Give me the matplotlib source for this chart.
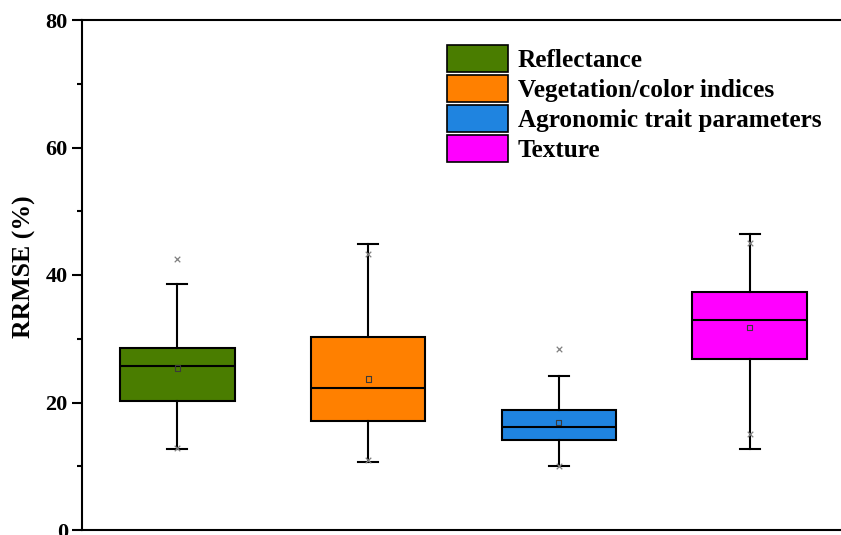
import matplotlib
matplotlib.use("Agg")
import matplotlib.pyplot as plt
from matplotlib.patches import Patch

# Feature groups and box statistics (RRMSE, %)
groups = ["Reflectance", "Vegetation/color indices", "Agronomic trait parameters", "Texture"]
colors = ["#4A7D00", "#FF8000", "#1F84E0", "#FF00FF"]
q1 = [20.3, 17.1, 14.1, 26.9]
median = [25.8, 22.3, 16.2, 33.0]
q3 = [28.6, 30.3, 18.8, 37.4]
whisker_low = [12.7, 10.6, 10.0, 12.7]
whisker_high = [38.6, 44.8, 24.2, 46.4]
mean = [25.4, 23.7, 16.9, 31.8]
extreme_low = [12.8, 11.0, 10.1, 15.0]
extreme_high = [42.5, 43.3, 28.4, 45.0]

plt.rcParams["font.family"] = ["Liberation Serif", "DejaVu Serif"]
plt.rcParams["font.weight"] = "bold"

fig = plt.figure(figsize=(8.41, 5.35), dpi=100)
ax = fig.add_axes([82 / 841, 5 / 535, 763 / 841, 510 / 535])

stats = []
for i, g in enumerate(groups):
    stats.append(dict(label=g, q1=q1[i], med=median[i], q3=q3[i],
                      whislo=whisker_low[i], whishi=whisker_high[i],
                      mean=mean[i], fliers=[]))

positions = list(range(1, len(groups) + 1))
bp = ax.bxp(stats, positions=positions, widths=0.6, patch_artist=True,
            showmeans=False, showfliers=False,
            boxprops=dict(linewidth=1.5, edgecolor="black"),
            medianprops=dict(color="black", linewidth=1.5),
            whiskerprops=dict(color="black", linewidth=1.5),
            capprops=dict(color="black", linewidth=1.5),
            capwidths=0.105)
for patch, c in zip(bp["boxes"], colors):
    patch.set_facecolor(c)

# mean markers and extreme values
ax.scatter(positions, mean, marker="s", s=14, facecolors="none",
           edgecolors="#3a3a3a", linewidths=0.8, zorder=5)
ax.scatter(positions, extreme_high, marker="x", s=16, color="#808080",
           linewidths=0.9, zorder=5)
ax.scatter(positions, extreme_low, marker="x", s=16, color="#808080",
           linewidths=0.9, zorder=5)

ax.set_xlim(0.5, 4.5)
ax.set_ylim(0, 80)
ax.set_yticks([0, 20, 40, 60, 80])
ax.set_yticks([10, 30, 50, 70], minor=True)
ax.set_xticks([])
ax.tick_params(axis="y", which="major", direction="out", length=7.2, width=1.5,
               labelsize=16, pad=3)
ax.tick_params(axis="y", which="minor", direction="out", length=3.6, width=1.5)
for lab in ax.get_yticklabels():
    lab.set_fontweight("bold")
for sp in ax.spines.values():
    sp.set_linewidth(1.5)

ax.set_ylabel("RRMSE (%)", fontsize=18.5, fontweight="bold")
ax.yaxis.set_label_coords(-0.06, 0.516)

handles = [Patch(facecolor=c, edgecolor="black", linewidth=1.2) for c in colors]
ax.legend(handles, groups, loc="upper left", bbox_to_anchor=(0.465, 0.971),
          frameon=False, handlelength=2.4, handleheight=1.25,
          handletextpad=0.4, labelspacing=0.13, borderaxespad=0,
          prop=dict(weight="bold", size=18.2))

fig.savefig("out.png", dpi=100)
